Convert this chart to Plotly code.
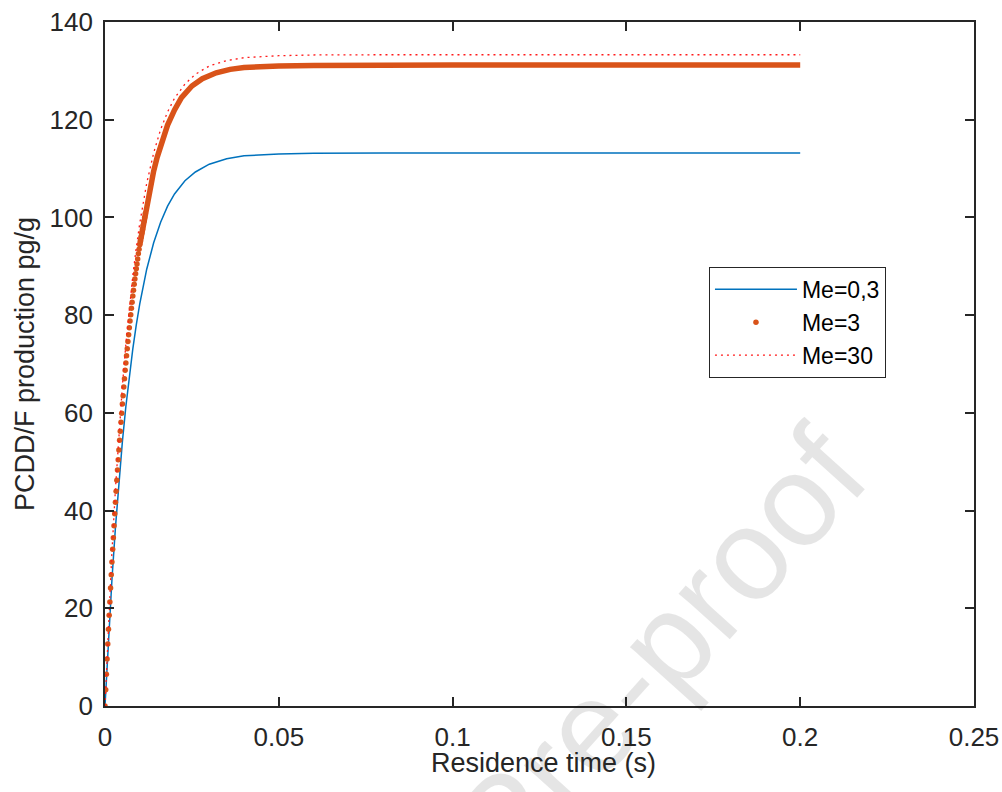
import plotly.graph_objects as go

# ---- data ----
# Me=3 : individual dots in the steep part (time step 0.0002 s)
t_dots = [0.0, 0.0002, 0.0004, 0.0006, 0.0008, 0.001, 0.0012, 0.0014, 0.0016, 0.0018,
          0.002, 0.0022, 0.0024, 0.0026, 0.0028, 0.003, 0.0032, 0.0034, 0.0036, 0.0038,
          0.004, 0.0042, 0.0044, 0.0046, 0.0048, 0.005, 0.0052, 0.0054, 0.0056, 0.0058,
          0.006, 0.0062, 0.0064, 0.0066, 0.0068, 0.007, 0.0072, 0.0074, 0.0076, 0.0078,
          0.008, 0.0082, 0.0084, 0.0086, 0.0088, 0.009, 0.0092, 0.0094, 0.0096, 0.0098,
          0.01, 0.0102, 0.0104, 0.0106, 0.0108, 0.011, 0.0112, 0.0114, 0.0116]
me3_dots = [0.0, 3.34, 6.48, 9.62, 12.69, 15.69, 18.56, 21.29, 24.15, 26.88,
            29.47, 32.06, 34.45, 36.91, 39.36, 41.68, 43.94, 46.19, 48.30, 50.42,
            52.39, 54.37, 56.22, 58.06, 59.90, 61.81, 63.52, 65.29, 66.99, 68.70,
            70.20, 71.70, 73.13, 74.63, 76.00, 77.43, 78.80, 80.09, 81.39, 82.62,
            83.91, 85.07, 86.30, 87.39, 88.48, 89.51, 90.46, 91.49, 92.58, 93.5,
            94.4, 95.2, 96.0, 96.8, 97.6, 98.4, 99.2, 100.0, 100.8]
# Me=3 : where the dots merge into a continuous band
t_band = [0.01, 0.0116, 0.013, 0.014, 0.015, 0.016, 0.018, 0.020, 0.022, 0.025, 0.028,
          0.032, 0.036, 0.040, 0.045, 0.05, 0.06, 0.08, 0.1, 0.15, 0.2]
me3_band = [94.4, 100.8, 106.3, 109.5, 112.3, 114.8, 118.9, 122.0, 124.5, 126.9, 128.4,
            129.6, 130.3, 130.7, 130.9, 131.0, 131.1, 131.2, 131.2, 131.2, 131.2]

# Me=0,3 and Me=30
t_line = [0.0, 0.001, 0.002, 0.003, 0.004, 0.005, 0.006, 0.007, 0.008, 0.009, 0.010,
          0.012, 0.014, 0.016, 0.018, 0.020, 0.023, 0.026, 0.030, 0.035, 0.040,
          0.05, 0.06, 0.08, 0.1, 0.15, 0.2]
me03 = [0.0, 13.8, 25.9, 36.5, 45.9, 54.1, 61.3, 67.6, 73.1, 78.0, 82.3,
        89.4, 94.8, 99.0, 102.3, 104.8, 107.5, 109.3, 110.9, 112.0, 112.6,
        113.0, 113.15, 113.2, 113.2, 113.2, 113.2]
me30 = [0.0, 16.8, 31.6, 44.4, 55.7, 65.5, 74.0, 81.5, 88.1, 93.8, 98.8,
        107.0, 113.2, 118.0, 121.6, 124.4, 127.3, 129.3, 131.0, 132.1, 132.7,
        133.1, 133.25, 133.3, 133.3, 133.3, 133.3]

x_ticks = [0, 0.05, 0.1, 0.15, 0.2, 0.25]
y_ticks = [0, 20, 40, 60, 80, 100, 120, 140]

BLUE = "#0072BD"
ORANGE = "#D95319"
RED = "#FF1A1A"
AX = "#262626"
FONT = "Liberation Sans, Arial, Helvetica, sans-serif"

fig = go.Figure()
fig.add_trace(go.Scatter(x=t_line, y=me03, mode="lines", name="Me=0,3",
                         line=dict(color=BLUE, width=1.5), legendrank=1))
fig.add_trace(go.Scatter(x=t_band, y=me3_band, mode="lines", showlegend=False,
                         line=dict(color=ORANGE, width=5.5), hoverinfo="skip"))
fig.add_trace(go.Scatter(x=t_dots, y=me3_dots, mode="markers", name="Me=3",
                         marker=dict(color=ORANGE, size=5.5, line=dict(width=0)),
                         legendrank=2))
fig.add_trace(go.Scatter(x=t_line, y=me30, mode="lines", name="Me=30",
                         line=dict(color=RED, width=1.3, dash="2px,4px"), legendrank=3))

# watermark
fig.add_annotation(text="Journal Pre-proof", xref="paper", yref="paper",
                   x=0.460, y=-0.170, xanchor="center", yanchor="middle",
                   textangle=-48, showarrow=False,
                   font=dict(family=FONT, size=130, color="rgba(0,0,0,0.10)"))

# x-axis title
fig.add_annotation(text="Residence time (s)", xref="paper", yref="paper",
                   x=0.505, y=-0.084, xanchor="center", yanchor="middle",
                   showarrow=False, font=dict(family=FONT, size=27, color=AX))

fig.update_layout(
    width=1002, height=792, autosize=False,
    margin=dict(l=105, r=28, t=22, b=86, autoexpand=False),
    paper_bgcolor="white", plot_bgcolor="white",
    font=dict(family=FONT, color=AX),
    showlegend=True,
    legend=dict(x=0.695, y=0.642, xanchor="left", yanchor="top",
                bordercolor=AX, borderwidth=1, bgcolor="white",
                font=dict(size=23, color="black", family=FONT),
                itemwidth=82, tracegroupgap=0),
)
fig.update_xaxes(range=[0, 0.25], tickvals=x_ticks, ticktext=[str(v) for v in x_ticks],
                 ticks="inside", ticklen=9, tickwidth=1.5, tickcolor=AX,
                 showline=True, linecolor=AX, linewidth=1.6, mirror="ticks",
                 showgrid=False, zeroline=False, automargin=False,
                 ticklabeloverflow="allow",
                 tickfont=dict(size=26, color=AX), ticklabelstandoff=7)
fig.update_yaxes(range=[0, 140], tickvals=y_ticks,
                 ticks="inside", ticklen=9, tickwidth=1.5, tickcolor=AX,
                 showline=True, linecolor=AX, linewidth=1.6, mirror="ticks",
                 showgrid=False, zeroline=False, automargin=False,
                 ticklabeloverflow="allow",
                 tickfont=dict(size=26, color=AX), ticklabelstandoff=5,
                 title=dict(text="PCDD/F production pg/g", font=dict(size=27, color=AX), standoff=7))

# remove the default 8px page margin so the 1002x792 figure fills the window exactly
fig.write_html("out.html", config={"displayModeBar": False},
               post_script="document.body.style.margin='0';document.body.style.overflow='hidden';")
